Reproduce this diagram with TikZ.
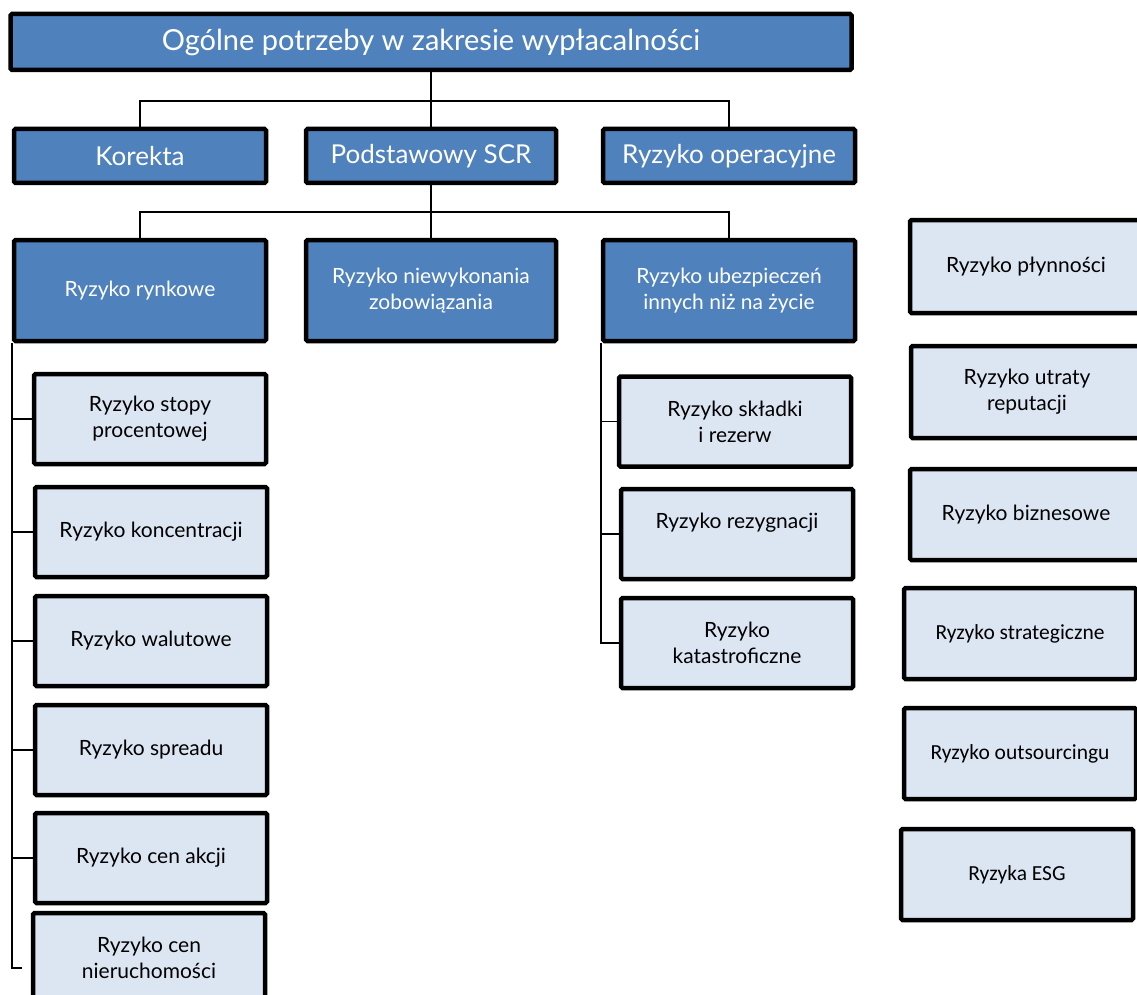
\documentclass[tikz,border=0pt]{standalone}
\usepackage{fontspec}
\setmainfont{Lato}
\newfontfamily\calibrifont{Carlito}
\definecolor{headblue}{HTML}{4F81BD}
\definecolor{paleblue}{HTML}{DCE6F2}
\tikzset{
	box/.style={draw=black, line width=4.5pt, rounded corners=1.5pt, inner sep=0pt, align=center},
	main/.style={box, fill=headblue, text=white},
	sub/.style={box, fill=paleblue, text=black, minimum width=232pt, minimum height=90pt, font=\fontsize{21}{26}\selectfont},
	link/.style={line width=1.5pt},
}
\begin{document}
\begin{tikzpicture}[x=1pt, y=-1pt]
	\useasboundingbox (0,0) rectangle (1137,995);

	\node [main, minimum width=841pt, minimum height=56pt, font=\fontsize{29}{34}\selectfont] (top) at (431,42) {Ogólne potrzeby w zakresie wypłacalności};

	\node [main, minimum width=252pt, minimum height=54pt, font=\fontsize{26}{30}\selectfont] (korekta) at (140,156) {Korekta};
	\node [main, minimum width=250pt, minimum height=54pt, font=\fontsize{26}{30}\selectfont] (scr) at (431,156) {Podstawowy SCR};
	\node [main, minimum width=252pt, minimum height=54pt, font=\fontsize{26}{30}\selectfont] (oper) at (729,156) {Ryzyko operacyjne};

	\node [main, minimum width=252pt, minimum height=101pt, font=\fontsize{21}{26}\selectfont] (rynek) at (140,290.5) {Ryzyko rynkowe};
	\node [main, minimum width=250pt, minimum height=101pt, font=\fontsize{21}{26}\selectfont] (kontr) at (431,290.5) {Ryzyko niewykonania\\zobowiązania};
	\node [main, minimum width=252pt, minimum height=101pt, font=\fontsize{21}{26}\selectfont] (ubezp) at (729,290.5) {Ryzyko ubezpieczeń\\innych niż na życie};

	\node [sub] (stopa) at (150,419) {Ryzyko stopy\\procentowej};
	\node [sub] (konc) at (151,532) {Ryzyko koncentracji};
	\node [sub] (walut) at (151,641) {Ryzyko walutowe};
	\node [sub] (spread) at (151,750) {Ryzyko spreadu};
	\node [sub] (akcje) at (151,858) {Ryzyko cen akcji};
	\node [sub] (nieruch) at (149,958) {Ryzyko cen\\nieruchomości};

	\node [sub] (skladka) at (735,421.5) {Ryzyko składki\\i rezerw};
	\node [sub] (rezyg) at (737,534) {Ryzyko rezygnacji\\~};
	\node [sub] (katast) at (737,643) {Ryzyko\\katastroficzne};

	\node [sub, minimum height=93pt] (plyn) at (1026,266.5) {Ryzyko płynności};
	\node [sub, minimum height=92pt] (reput) at (1027,392) {Ryzyko utraty\\reputacji};
	\node [sub, minimum height=91pt] (biznes) at (1026,514.5) {Ryzyko biznesowe};
	\node [sub, minimum height=91pt, font=\calibrifont\fontsize{21.5}{26}\selectfont] (strat) at (1020,633.5) {Ryzyko strategiczne};
	\node [sub, minimum height=91pt, font=\calibrifont\fontsize{21.5}{26}\selectfont] (outs) at (1020,753.5) {Ryzyko outsourcingu};
	\node [sub, minimum height=91pt, font=\calibrifont\fontsize{21.5}{26}\selectfont] (esg) at (1017,874.5) {Ryzyka ESG};

	\coordinate (j1) at (431,101);
	\coordinate (j2) at (431,212);
	\coordinate (sl) at (12,343);
	\coordinate (sm) at (601,343);
	\coordinate (endl) at (22,968);

	\draw [link] (top) -- (scr);
	\draw [link] (korekta.north) |- (j1) -| (oper.north);
	\draw [link] (scr) -- (kontr);
	\draw [link] (rynek.north) |- (j2) -| (ubezp.north);

	\draw [link] (sl) |- (endl);
	\foreach \n in {stopa, konc, walut, spread, akcje}
		\draw [link] (sl |- \n.west) -- (\n.west);

	\draw [link] (sm) |- (katast.west);
	\foreach \n in {skladka, rezyg}
		\draw [link] (sm |- \n.west) -- (\n.west);
\end{tikzpicture}
\end{document}
